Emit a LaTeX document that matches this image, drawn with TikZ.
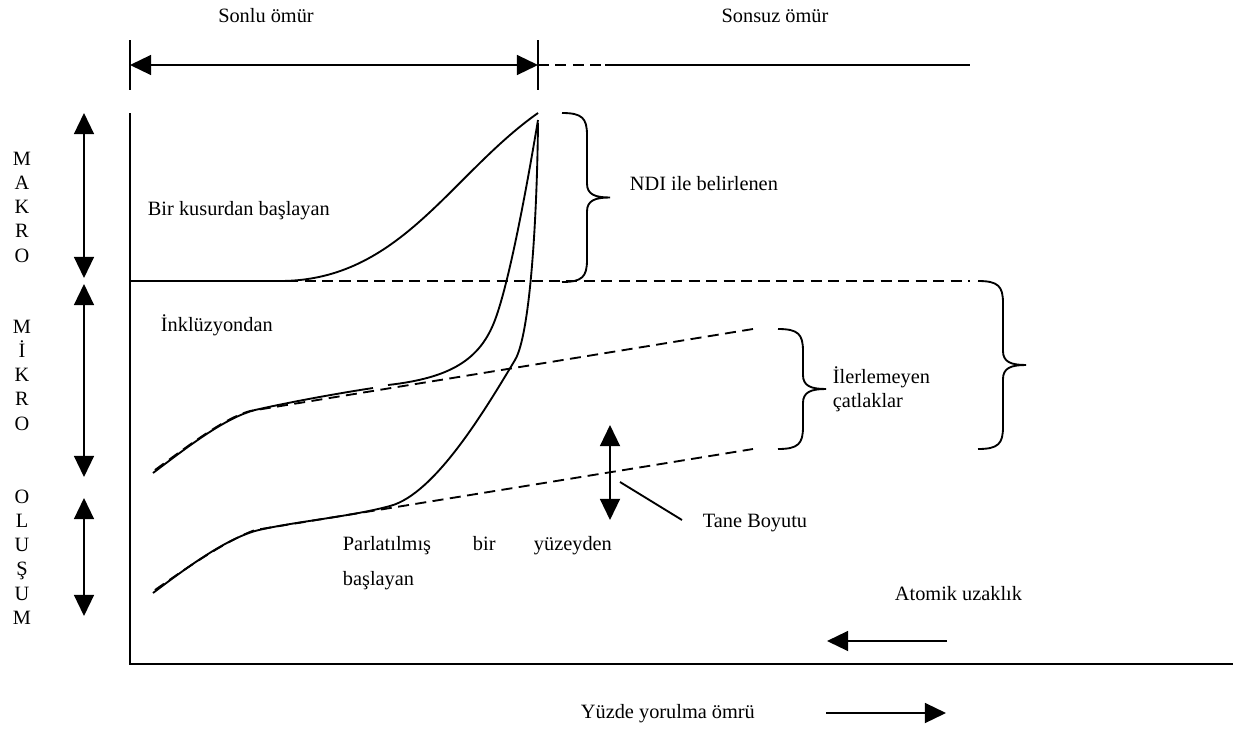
\documentclass[tikz,border=0pt]{standalone}
\usepackage{fontspec}
\setmainfont{Liberation Serif}
\usetikzlibrary{arrows.meta}

% curly brace opening to the right: x of the ends, top y, bottom y
\newcommand{\curlybr}[3]{%
  \draw ({#1},{#2}) .. controls ({#1+20},{#2}) and ({#1+25},{#2+5}) .. ({#1+25},{#2+22})
    -- ({#1+25},{(#2+#3)/2-14}) .. controls ({#1+25},{(#2+#3)/2-3}) and ({#1+33},{(#2+#3)/2}) .. ({#1+48},{(#2+#3)/2})
    .. controls ({#1+33},{(#2+#3)/2}) and ({#1+25},{(#2+#3)/2+3}) .. ({#1+25},{(#2+#3)/2+14})
    -- ({#1+25},{#3-22}) .. controls ({#1+25},{#3-5}) and ({#1+20},{#3}) .. ({#1},{#3});}

\begin{document}
\begin{tikzpicture}[x=0.59pt,y=-0.59pt,line width=1.1pt,
  >={Triangle[length=12.5pt,width=11.8pt]},
  every node/.style={font=\fontsize{12}{14.3}\selectfont,inner sep=0pt},
  dashline/.style={dash pattern=on 6.5pt off 3.8pt}]
\useasboundingbox (0,0) rectangle (1233,729);

% finite / infinite life
\node[anchor=base] (sonlu) at (266,23) {Sonlu ömür};
\node[anchor=base] (sonsuz) at (775,23) {Sonsuz ömür};
\draw (130,40) -- (130,90);
\draw (538,40) -- (538,90);
\draw[<->] (130,65) -- (538,65);
\draw[dashline] (538,65) -- (605,65);
\draw (605,65) -- (970,65);

% axes
\draw (130,113) |- (1233,664);

% left scale
\draw[<->] (84,113) -- (84,278);
\draw[<->] (84,284) -- (84,477);
\draw[<->] (84,498) -- (84,616);
\node[align=center] (makro) at (22,207) {M\\A\\K\\R\\O};
\node[align=center] (mikro) at (22,375) {M\\İ\\K\\R\\O};
\node[align=center] (olusum) at (22,557) {O\\L\\U\\Ş\\U\\M};

% crack from a defect
\draw[dashline] (130,281) -- (970,281);
\draw (130,281) -- (280,281) .. controls (400,281) and (450,175) .. (538,113);
\node[anchor=base west] (kusur) at (147,215) {Bir kusurdan başlayan};

% crack from an inclusion
\draw (153,473) .. controls (190,445) and (225,418) .. (255,410)
  .. controls (290,402) and (340,393) .. (373,388);
\draw (388,385) .. controls (450,378) and (480,360) .. (495,320)
  .. controls (510,280) and (528,180) .. (538,120);
\draw[dashline] (155,470) .. controls (192,443) and (225,418) .. (250,411) -- (753,329);
\node[anchor=base west] (inkluzyon) at (160,331) {İnklüzyondan};

% crack from a polished surface
\draw (153,593) .. controls (190,565) and (225,540) .. (255,531)
  .. controls (290,522) and (350,517) .. (390,506)
  .. controls (435,494) and (485,410) .. (515,360)
  .. controls (530,335) and (537,220) .. (538,123);
\draw[dashline] (155,590) .. controls (195,562) and (228,540) .. (255,530) -- (753,449);
\node[anchor=base west] (parlatilmis) at (342,550) {Parlatılmış};
\node[anchor=base west] (bir) at (472,550) {bir};
\node[anchor=base west] (yuzeyden) at (533,550) {yüzeyden};
\node[anchor=base west] (baslayan) at (342,585) {başlayan};

% braces
\curlybr{562}{113}{282}
\node[anchor=base west] (ndi) at (629,190) {NDI ile belirlenen};
\curlybr{778}{329}{449}
\node[anchor=base west] (ilerlemeyen) at (832,383) {İlerlemeyen};
\node[anchor=base west] (catlaklar) at (832,407) {çatlaklar};
\curlybr{978}{281}{449}

% grain size
\draw[<->] (610,425) -- (610,520);
\draw (620,482) -- (682,520);
\node[anchor=base west] (tane) at (702,527) {Tane Boyutu};

% atomic distance, fatigue life
\node[anchor=base west] (atomik) at (894,600) {Atomik uzaklık};
\draw[->] (947,641) -- (827,641);
\node[anchor=base west] (yuzde) at (580,718) {Yüzde yorulma ömrü};
\draw[->] (826,713) -- (946,713);
\end{tikzpicture}
\end{document}
